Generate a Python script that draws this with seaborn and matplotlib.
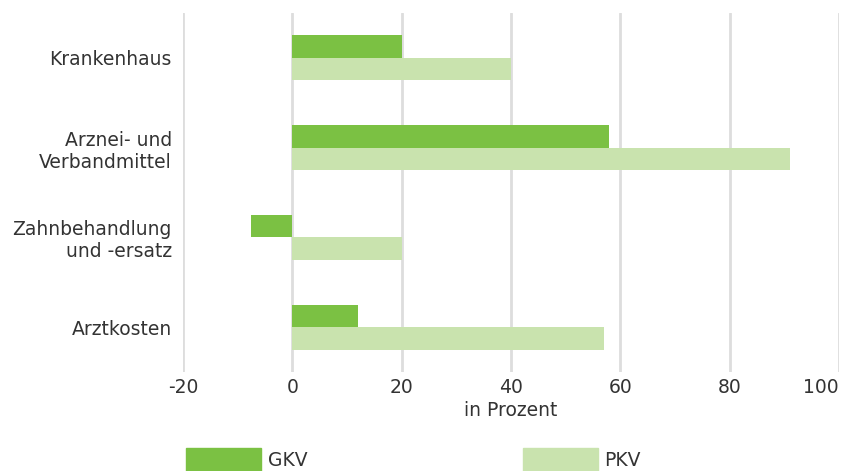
import numpy as np
import pandas as pd
import matplotlib
matplotlib.use("Agg")
import matplotlib.pyplot as plt
import seaborn as sns

# values (in Prozent)
categories = ["Krankenhaus", "Arznei- und\nVerbandmittel", "Zahnbehandlung\nund -ersatz", "Arztkosten"]
gkv = [20, 58, -7.5, 12]
pkv = [40, 91, 20, 57]
series = ["GKV", "PKV"]
colors = ["#7bc143", "#c9e3ae"]
xticks = [-20, 0, 20, 40, 60, 80, 100]

df = pd.DataFrame({
    "Kategorie": categories * 2,
    "Wert": gkv + pkv,
    "Gruppe": ["GKV"] * len(categories) + ["PKV"] * len(categories),
})

sns.set_style("white")
plt.rcParams["font.family"] = ["DejaVu Sans"]
plt.rcParams["text.color"] = "#333333"
fs = 13.5

fig = plt.figure(figsize=(8.45, 4.71), dpi=100)
ax = fig.add_axes([183 / 845, 1 - 372 / 471, 656 / 845, 359 / 471])

sns.barplot(data=df, x="Wert", y="Kategorie", hue="Gruppe", order=categories,
            hue_order=series, palette=colors, width=0.5, saturation=1,
            orient="h", ax=ax, legend=False, linewidth=0, edgecolor="none")

ax.set_xlim(-20, 100)
ax.set_ylim(3.5, -0.5)
ax.set_xticks(xticks)
ax.set_xticklabels([str(t) for t in xticks], fontsize=fs, color="#333333")
ax.get_xticklabels()[-1].set_horizontalalignment("right")
ax.tick_params(axis="y", labelsize=fs, labelcolor="#333333", length=0, pad=8)
ax.tick_params(axis="x", length=0, pad=4)
for lbl in ax.get_yticklabels():
    lbl.set_horizontalalignment("right")
    lbl.set_multialignment("right")
ax.set_ylabel("")
ax.set_xlabel("in Prozent", fontsize=fs, color="#333333", labelpad=3)
ax.xaxis.grid(True, color="#dddddd", linewidth=2)
ax.set_axisbelow(True)
for s in ax.spines.values():
    s.set_visible(False)

handles = [plt.Rectangle((0, 0), 1, 1, color=c) for c in colors]
fig.legend(handles, series, loc="upper left", bbox_to_anchor=(186 / 845, 1 - 448 / 471),
           ncol=2, frameon=False, fontsize=fs, handlelength=4.0, handleheight=1.5,
           handletextpad=0.35, columnspacing=11.5, borderpad=0, borderaxespad=0)

fig.savefig("out.png", dpi=100)
